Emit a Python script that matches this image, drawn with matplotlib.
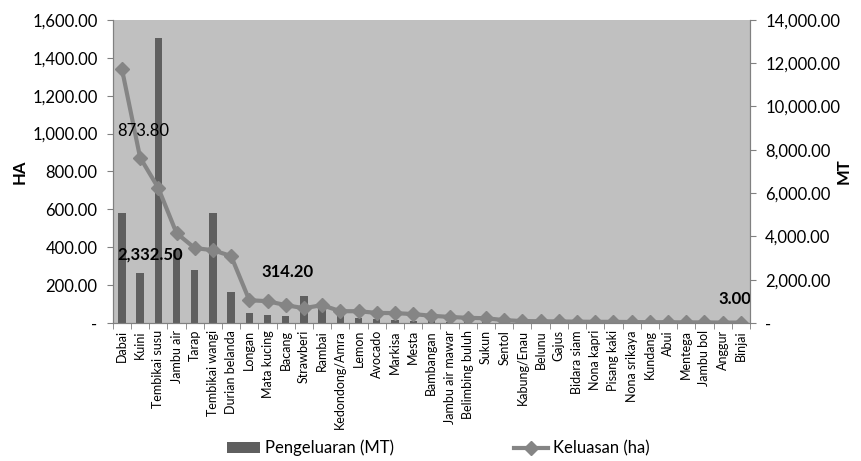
import numpy as np
import matplotlib
matplotlib.use("Agg")
import matplotlib.pyplot as plt
from matplotlib.ticker import FuncFormatter

plt.rcParams['font.family'] = ['Lato', 'DejaVu Sans']

# Buah-buahan: categories, production (MT, bars) and area (ha, line)
categories = ["Dabai", "Kuini", "Tembikai susu", "Jambu air", "Tarap",
              "Tembikai wangi", "Durian belanda", "Longan", "Mata kucing",
              "Bacang", "Strawberi", "Rambai", "Kedondong/Amra", "Lemon",
              "Avocado", "Markisa", "Mesta", "Bambangan", "Jambu air mawar",
              "Belimbing buluh", "Sukun", "Sentol", "Kabung/Enau", "Belunu",
              "Gajus", "Bidara siam", "Nona kapri", "Pisang kaki",
              "Nona srikaya", "Kundang", "Abui", "Mentega", "Jambu bol",
              "Anggur", "Binjai"]
pengeluaran_mt = [5080, 2332.5, 13170, 3360, 2450, 5080, 1435, 464, 368,
                  314.2, 1251, 928, 464, 228, 184, 140, 96, 88, 70, 52,
                  40, 35, 30, 25, 20, 18, 15, 13, 11, 9, 8, 6, 5, 4, 3]
keluasan_ha = [1341, 873.8, 713, 475, 396, 385, 354, 121, 116, 95, 79, 95,
               63, 63, 54, 53, 48, 39, 33, 28, 26, 16, 11, 10, 9, 8, 7, 7,
               6, 5, 5, 4, 4, 3, 3]
labels_text = ["873.80", "2,332.50", "314.20", "3.00"]

x = np.arange(len(categories))

fig = plt.figure(figsize=(8.61, 4.61), dpi=100)
ax = fig.add_axes([0.131, 0.299, 0.740, 0.658])
ax2 = ax.twinx()

# bars on the right (MT) axis, line on the left (HA) axis, line on top
ax.set_zorder(2)
ax2.set_zorder(1)
ax.patch.set_visible(False)
ax2.patch.set_visible(True)
ax2.patch.set_facecolor("#c0c0c0")

bars = ax2.bar(x, pengeluaran_mt, width=0.4, color="#5f5f5f",
               label="Pengeluaran (MT)")
line, = ax.plot(x, keluasan_ha, color="#858585", lw=3, marker="D",
                markersize=7, label="Keluasan (ha)")

ax.set_xlim(-0.5, len(categories) - 0.5)
ax.set_ylim(0, 1600)
ax2.set_ylim(0, 14000)
ax.set_yticks(np.arange(0, 1601, 200))
ax2.set_yticks(np.arange(0, 14001, 2000))

fmt = FuncFormatter(lambda v, p: "-" if v == 0 else f"{v:,.2f}")
ax.yaxis.set_major_formatter(fmt)
ax2.yaxis.set_major_formatter(fmt)

ax.set_xticks(x)
ax.set_xticklabels(categories, rotation=90, fontsize=9)
ax.set_xticks(np.arange(-0.5, len(categories)), minor=True)
ax.tick_params(axis="x", which="major", length=0, pad=5)
ax.tick_params(axis="x", which="minor", length=4, color="#808080")
ax.tick_params(axis="y", labelsize=12, length=4, pad=7, color="#808080")
ax2.tick_params(axis="y", labelsize=12, length=4, pad=7, color="#808080")
ax2.tick_params(axis="x", length=0)

for a in (ax, ax2):
    for s in a.spines.values():
        s.set_color("#808080")
    a.spines["top"].set_visible(False)

ax.set_ylabel("HA", fontsize=12, fontweight="bold")
ax2.set_ylabel("MT", fontsize=12, fontweight="bold")
ax.yaxis.set_label_coords(-0.133, 0.5)
ax2.yaxis.set_label_coords(1.135, 0.5)

# data labels
ax.annotate(labels_text[0], (x[1], keluasan_ha[1]), xytext=(2.5, 19),
            textcoords="offset points", ha="center", va="center",
            fontsize=12)
ax2.annotate(labels_text[1], (x[1], pengeluaran_mt[1]), xytext=(7, 13),
             textcoords="offset points", ha="center", va="center",
             fontsize=12, fontweight="bold")
ax2.annotate(labels_text[2], (x[9], pengeluaran_mt[9]), xytext=(1, 32),
             textcoords="offset points", ha="center", va="center",
             fontsize=12, fontweight="bold")
ax2.annotate(labels_text[3], (x[34], pengeluaran_mt[34]), xytext=(-4, 17),
             textcoords="offset points", ha="center", va="center",
             fontsize=12, fontweight="bold")

fig.legend(handles=[bars, line], loc="center", bbox_to_anchor=(0.509, 0.028),
           ncol=2, frameon=False, fontsize=12, columnspacing=7.2,
           handlelength=2.0, handletextpad=0.3)

fig.savefig("out.png", dpi=100)
